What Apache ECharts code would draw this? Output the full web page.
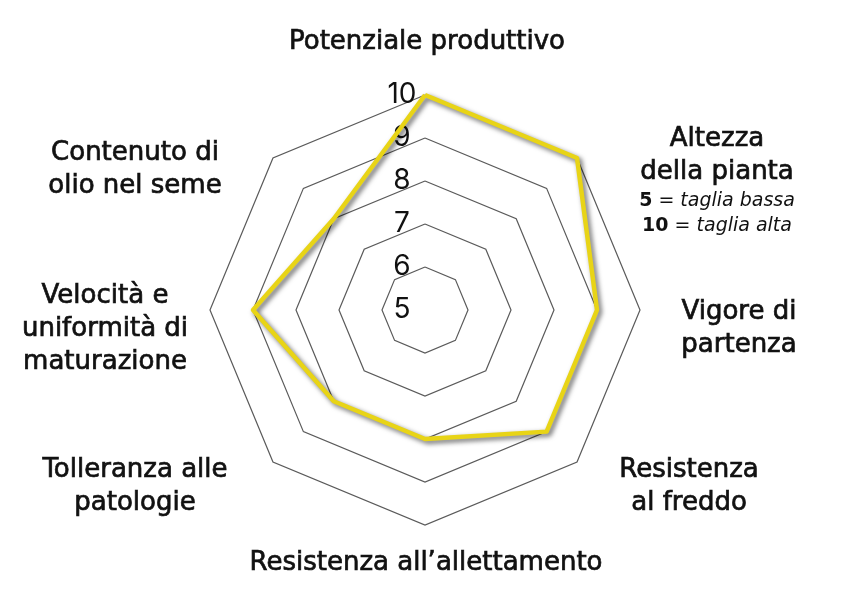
<!DOCTYPE html>
<html>
<head>
<meta charset="utf-8">
<script src="https://cdn.jsdelivr.net/npm/echarts@6/dist/echarts.min.js"></script>
<style>
  html, body { margin: 0; padding: 0; background: #ffffff; }
  #chart { width: 850px; height: 600px; }
</style>
</head>
<body>
<div id="chart"></div>
<script>
// Indicators, counter-clockwise from the top (ECharts radar order)
const indicatorNames = [
  'Potenziale produttivo',
  'Contenuto di\nolio nel seme',
  'Velocità e\nuniformità di\nmaturazione',
  'Tolleranza alle\npatologie',
  'Resistenza all\u2019allettamento',
  'Resistenza\nal freddo',
  'Vigore di\npartenza',
  'Altezza\ndella pianta'
];
const seriesValues = [10, 8, 9, 8, 8, 9, 9, 10];
const axisMin = 5;
const axisMax = 10;
const heightNoteNumbers = ['5', '10'];
const heightNoteTexts = ['taglia bassa', 'taglia alta'];

// layout: padding that shifts each name block [top, right, bottom, left]
const namePadding = [
  [0, 0, 106, 4],
  [24, 276, 0, 0],
  [38, 210, 0, 0],
  [50, 276, 0, 0],
  [76, 0, 0, 2],
  [50, 0, 0, 224],
  [38, 0, 0, 198],
  [46, 0, 0, 280]
];

const FONT = '"DejaVu Sans", "Noto Sans", sans-serif';
const NUM_FONT = 'Inter, "Noto Sans", sans-serif';

const indicators = indicatorNames.map(function (n, i) {
  const ind = {
    name: n,
    min: axisMin,
    max: axisMax,
    nameTextStyle: { padding: namePadding[i] }
  };
  if (i === 0) {
    ind.axisLabel = {
      show: true,
      fontSize: 28,
      color: '#111',
      fontFamily: NUM_FONT,
      align: 'center',
      margin: 23,
      padding: [0, 0, 14, 0]
    };
  }
  return ind;
});

function nameFormatter(name) {
  const lines = name.split('\n').map(function (l) { return '{t|' + l + '}'; });
  if (name.indexOf('Altezza') === 0) {
    for (let k = 0; k < heightNoteNumbers.length; k++) {
      lines.push('{b|' + heightNoteNumbers[k] + '}{i| = ' + heightNoteTexts[k] + '}');
    }
  }
  return lines.join('\n');
}

const chart = echarts.init(document.getElementById('chart'));
chart.setOption({
  backgroundColor: '#ffffff',
  animation: false,
  radar: {
    center: [425, 310],
    radius: 215,
    startAngle: 90,
    splitNumber: 5,
    shape: 'polygon',
    indicator: indicators,
    axisNameGap: 0,
    axisName: {
      formatter: nameFormatter,
      align: 'center',
      verticalAlign: 'middle',
      rich: {
        t: { fontSize: 26, lineHeight: 33, align: 'center', color: '#111', fontFamily: FONT,
             textBorderColor: '#111', textBorderWidth: 0.7 },
        b: { fontSize: 19, fontWeight: 'bold', lineHeight: 25, color: '#111', fontFamily: FONT },
        i: { fontSize: 19, fontStyle: 'italic', lineHeight: 25, color: '#111', fontFamily: FONT }
      }
    },
    axisLine: { show: false },
    axisTick: { show: false },
    axisLabel: { show: false },
    splitLine: { lineStyle: { color: '#5a5a5a', width: 1.2 } },
    splitArea: { show: false }
  },
  series: [{
    type: 'radar',
    symbol: 'none',
    data: [{ value: seriesValues }],
    lineStyle: {
      color: '#e8d416',
      width: 4.5,
      shadowColor: 'rgba(0,0,0,0.6)',
      shadowBlur: 5,
      shadowOffsetX: 2.5,
      shadowOffsetY: 2.5
    }
  }]
});
</script>
</body>
</html>
